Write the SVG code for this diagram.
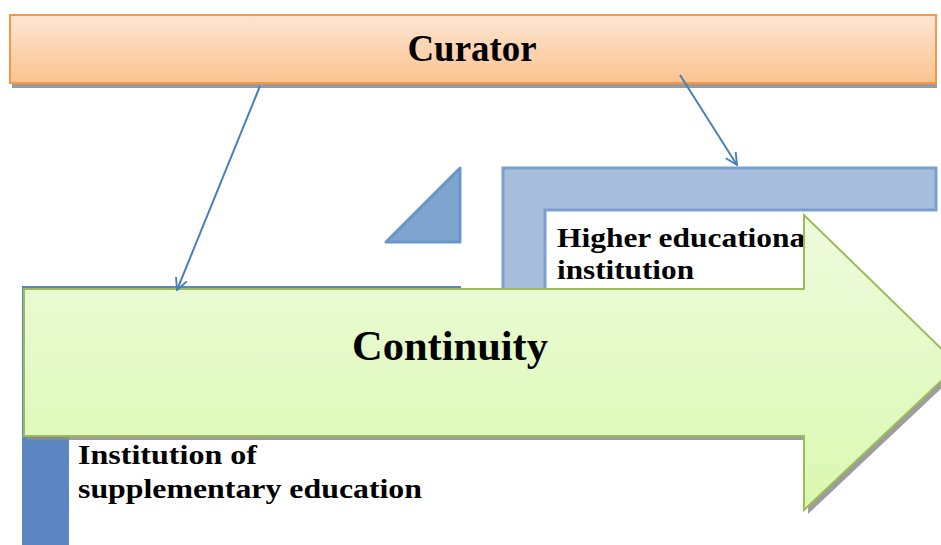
<svg xmlns="http://www.w3.org/2000/svg" width="941" height="545" viewBox="0 0 941 545">
<defs>
<linearGradient id="gOrange" x1="0" y1="0" x2="0" y2="1">
<stop offset="0" stop-color="#FDE6D4"/>
<stop offset="1" stop-color="#FBC38F"/>
</linearGradient>
<linearGradient id="gGreen" x1="0" y1="0" x2="0" y2="1">
<stop offset="0" stop-color="#EEFBDD"/>
<stop offset="1" stop-color="#DAF8B0"/>
</linearGradient>
<clipPath id="hiClip"><rect x="545" y="210" width="259" height="80"/></clipPath>
<marker id="open" viewBox="0 0 12 12" refX="11" refY="6" markerWidth="14" markerHeight="14" markerUnits="userSpaceOnUse" orient="auto">
<path d="M1,1 L11,6 L1,11" fill="none" stroke="#4A7EBB" stroke-width="1.6"/>
</marker>
</defs>
<style>
.lbl{font-family:"Liberation Serif","Times New Roman",serif;font-weight:bold;fill:#000}
.conn{stroke:#4A7EBB;stroke-width:2;fill:none;marker-end:url(#open)}
</style>
<rect width="941" height="545" fill="#fff"/>

<g id="curator">
<rect x="12" y="18" width="925" height="70" fill="#9A9A9A"/>
<rect x="10" y="15" width="926" height="68" fill="url(#gOrange)" stroke="#F79646" stroke-width="2"/>
<text class="lbl" x="472" y="61" font-size="37" text-anchor="middle" textLength="129" lengthAdjust="spacingAndGlyphs">Curator</text>
</g>

<g id="triangle">
<polygon points="386,242 460,168 460,242" fill="#7FA4CF" stroke="#6A95C9" stroke-width="3" stroke-linejoin="round"/>
</g>

<g id="higher-education">
<path d="M503,168 L936,168 L936,210 L545,210 L545,300 L503,300 Z" fill="#A7BFDD" stroke="#7C9FD0" stroke-width="3"/>
<text class="lbl" font-size="28" clip-path="url(#hiClip)"><tspan x="557" y="247" textLength="257" lengthAdjust="spacingAndGlyphs">Higher educational</tspan><tspan x="557" y="279" textLength="137" lengthAdjust="spacingAndGlyphs">institution</tspan></text>
</g>

<g id="supplementary-education">
<path d="M23,287 L460,287 L460,300 L68,300 L68,545 L23,545 Z" fill="#5B86C1" stroke="#5B86C1" stroke-width="2"/>
<text class="lbl" font-size="28"><tspan x="78" y="464" textLength="179" lengthAdjust="spacingAndGlyphs">Institution of</tspan><tspan x="78" y="498" textLength="344" lengthAdjust="spacingAndGlyphs">supplementary education</tspan></text>
</g>

<g id="continuity">
<polygon points="27,292 808,292 808,219 962,369 808,514 808,440 27,440" fill="#8C8C8C" opacity="0.85"/>
<polygon points="24,289 804,289 804,215 958,365 804,510 804,436 24,436" fill="url(#gGreen)" stroke="#9BBB59" stroke-width="2" stroke-linejoin="miter"/>
<text class="lbl" x="450" y="360" font-size="42" text-anchor="middle" textLength="196" lengthAdjust="spacingAndGlyphs">Continuity</text>
</g>

<g id="connectors">
<line class="conn" x1="260" y1="86" x2="177" y2="290"/>
<line class="conn" x1="680" y1="75" x2="737" y2="165"/>
</g>
</svg>
